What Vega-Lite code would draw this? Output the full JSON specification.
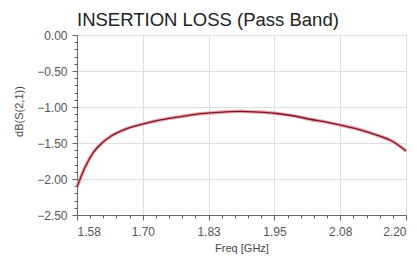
{
  "$schema": "https://vega.github.io/schema/vega-lite/v6.json",
  "width": 329,
  "height": 180,
  "autosize": "none",
  "padding": {"left": 77, "top": 35, "right": 11, "bottom": 50},
  "background": "white",
  "title": {"text": "INSERTION LOSS (Pass Band)", "font": "Liberation Sans", "fontSize": 18.5, "fontWeight": "normal", "color": "#222222", "offset": 0, "anchor": "start", "frame": "group"},
  "config": {
    "view": {"stroke": "#777777", "strokeWidth": 1},
    "axis": {"labelFont": "Liberation Sans", "titleFont": "Liberation Sans", "labelFontSize": 12, "titleFontSize": 11, "titleFontWeight": "normal", "labelColor": "#555555", "titleColor": "#444444", "domainColor": "#666666", "tickColor": "#666666", "gridColor": "#dedede", "labelOverlap": false}
  },
  "data": {"values": [
    {"freq": 1.580, "db": -2.11},
    {"freq": 1.595, "db": -1.84},
    {"freq": 1.611, "db": -1.63},
    {"freq": 1.627, "db": -1.50},
    {"freq": 1.643, "db": -1.41},
    {"freq": 1.674, "db": -1.30},
    {"freq": 1.705, "db": -1.235},
    {"freq": 1.737, "db": -1.18},
    {"freq": 1.770, "db": -1.14},
    {"freq": 1.800, "db": -1.105},
    {"freq": 1.845, "db": -1.075},
    {"freq": 1.888, "db": -1.06},
    {"freq": 1.920, "db": -1.07},
    {"freq": 1.957, "db": -1.09},
    {"freq": 1.990, "db": -1.125},
    {"freq": 2.019, "db": -1.17},
    {"freq": 2.050, "db": -1.21},
    {"freq": 2.082, "db": -1.26},
    {"freq": 2.115, "db": -1.32},
    {"freq": 2.145, "db": -1.39},
    {"freq": 2.175, "db": -1.48},
    {"freq": 2.200, "db": -1.61}
  ]},
  "resolve": {"axis": {"x": "independent", "y": "independent"}},
  "layer": [
    {
      "mark": {"type": "line", "color": "#f4a0a8", "strokeWidth": 3.5, "interpolate": "monotone"},
      "encoding": {
        "x": {"field": "freq", "type": "quantitative", "scale": {"domain": [1.58, 2.2], "nice": false, "zero": false}, "axis": {"title": "Freq [GHz]", "values": [1.58, 1.704, 1.828, 1.952, 2.076, 2.2], "format": ".2f", "grid": true, "tickSize": 5, "labelPadding": 6, "titleY": 27}},
        "y": {"field": "db", "type": "quantitative", "scale": {"domain": [-2.5, 0], "nice": false}, "axis": {"title": "dB(S(2,1))", "values": [-2.5, -2, -1.5, -1, -0.5, 0], "format": ".2f", "grid": true, "tickSize": 5, "labelPadding": 5, "titleX": -53, "titleY": 76}}
      }
    },
    {
      "mark": {"type": "line", "color": "#6e1a28", "strokeWidth": 1.3, "interpolate": "monotone"},
      "encoding": {
        "x": {"field": "freq", "type": "quantitative", "scale": {"domain": [1.58, 2.2], "nice": false, "zero": false}, "axis": {"orient": "bottom", "title": null, "labels": false, "grid": false, "domain": false, "tickSize": 3, "tickColor": "#555555", "values": [1.6048, 1.6296, 1.6544, 1.6792, 1.7288, 1.7536, 1.7784, 1.8032, 1.8528, 1.8776, 1.9024, 1.9272, 1.9768, 2.0016, 2.0264, 2.0512, 2.1008, 2.1256, 2.1504, 2.1752]}},
        "y": {"field": "db", "type": "quantitative", "scale": {"domain": [-2.5, 0], "nice": false}, "axis": {"orient": "left", "title": null, "labels": false, "grid": false, "domain": false, "tickSize": 3, "tickColor": "#555555", "values": [-2.4, -2.3, -2.2, -2.1, -1.9, -1.8, -1.7, -1.6, -1.4, -1.3, -1.2, -1.1, -0.9, -0.8, -0.7, -0.6, -0.4, -0.3, -0.2, -0.1]}}
      }
    }
  ]
}
